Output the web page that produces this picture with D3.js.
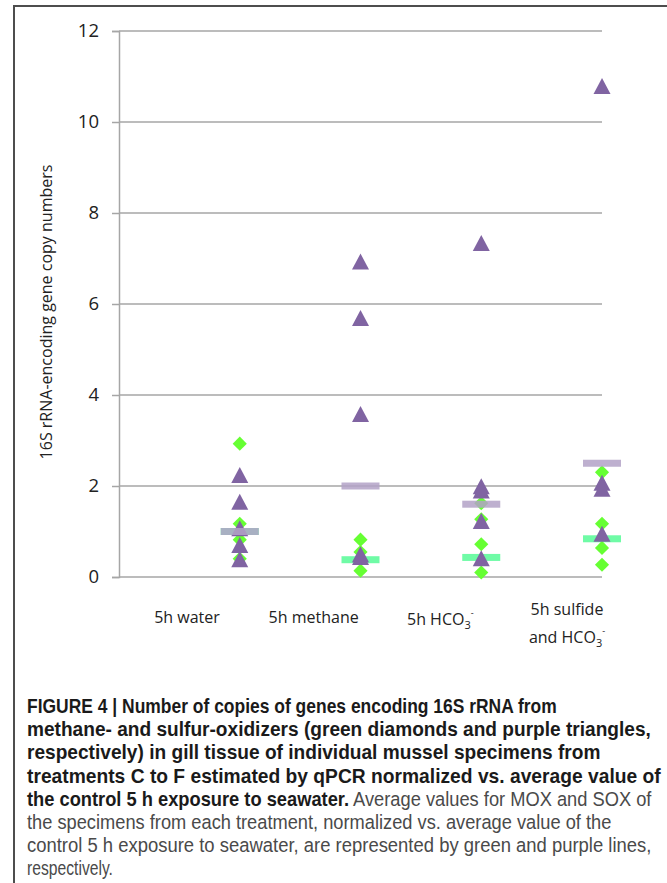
<!DOCTYPE html>
<html>
<head>
<meta charset="utf-8">
<script src="https://cdn.jsdelivr.net/npm/d3@7"></script>
<style>
  html, body { margin: 0; padding: 0; background: #fff; }
  svg { display: block; }
</style>
</head>
<body>
<svg id="chart" width="667" height="883"></svg>
<script>
// ---------- data ----------
const categories = ["5h water", "5h methane", "5h HCO3-", "5h sulfide and HCO3-"];
const yTicks = [0, 2, 4, 6, 8, 10, 12];
// sulfur-oxidizers (purple triangles)
const soxWater   = [2.22, 1.63, 1.05, 0.68, 0.37];
const soxMethane = [6.91, 5.67, 3.56, 0.48, 0.42];
const soxHCO3    = [7.32, 1.97, 1.88, 1.21, 0.39];
const soxSulfide = [10.77, 2.05, 1.92, 0.93];
// methane-oxidizers (green diamonds)
const moxWater   = [2.93, 1.17, 0.82, 0.40];
const moxMethane = [0.82, 0.55, 0.38, 0.14];
const moxHCO3    = [1.62, 1.27, 0.72, 0.10];
const moxSulfide = [2.30, 1.17, 0.64, 0.27];
// averages (lines)
const moxMean = [1.0, 0.38, 0.43, 0.84];
const soxMean = [1.0, 2.0, 1.6, 2.5];

const soxSeries = [soxWater, soxMethane, soxHCO3, soxSulfide];
const moxSeries = [moxWater, moxMethane, moxHCO3, moxSulfide];

// ---------- layout ----------
const svg = d3.select("#chart");
const x = d3.scaleLinear().domain([0, 4]).range([119, 602]);
const y = d3.scaleLinear().domain([0, 12]).range([577, 31]);
const labelX = d3.scalePoint().domain(categories).range([187, 567]);

const C = {
  purple: "#8064a2",
  lavender: "#b3a2c7",
  green: "#66ff33",
  mint: "#5ffb9c",
  grid: "#a6a6a6",
  text: "#222"
};

// figure frame
svg.append("path")
  .attr("d", "M14,883 V6 H667")
  .attr("fill", "none").attr("stroke", "#4d4d4d").attr("stroke-width", 2);

// gridlines
svg.append("g").selectAll("line").data(yTicks).join("line")
  .attr("x1", x(0)).attr("x2", x(4))
  .attr("y1", d => y(d)).attr("y2", d => y(d))
  .attr("stroke", C.grid).attr("stroke-width", 1.5);

// y axis
const yAxis = d3.axisLeft(y).tickValues(yTicks).tickSize(7).tickPadding(13);
const gy = svg.append("g").attr("transform", `translate(${x(0)},0)`).call(yAxis);
gy.select(".domain").attr("stroke", C.grid).attr("stroke-width", 1.5);
gy.selectAll(".tick line").attr("stroke", C.grid).attr("stroke-width", 1.5);
gy.selectAll(".tick text")
  .attr("font-family", "'Open Sans', sans-serif").attr("font-size", 18.5)
  .attr("fill", "#222");

// y title
svg.append("text")
  .attr("transform", `translate(52,312) rotate(-90)`)
  .attr("text-anchor", "middle")
  .attr("font-family", "'Open Sans', sans-serif").attr("font-size", 16)
  .attr("fill", "#222")
  .text("16S rRNA-encoding gene copy numbers");

// category labels
const catFont = "'Open Sans', sans-serif";
function hco3(t, prefix) {
  t.append("tspan").text(prefix + "HCO");
  t.append("tspan").attr("font-size", 11).attr("dy", 4).text("3");
  t.append("tspan").attr("font-size", 9).attr("dy", -13).text("-");
}
const labels = svg.append("g")
  .attr("font-family", catFont).attr("font-size", 16).attr("fill", "#222");
categories.forEach((c, i) => {
  const cx = labelX(c);
  if (i < 2) {
    labels.append("text").attr("x", cx).attr("y", 623).attr("text-anchor", "middle").text(c);
  } else if (i === 2) {
    const t = labels.append("text").attr("x", cx).attr("y", 625).attr("text-anchor", "middle");
    hco3(t, "5h ");
  } else {
    labels.append("text").attr("x", cx).attr("y", 615).attr("text-anchor", "middle").text("5h sulfide");
    const t = labels.append("text").attr("x", cx).attr("y", 643).attr("text-anchor", "middle");
    hco3(t, "and ");
  }
});

// mean lines (green, beneath)
const barW = 38, barH = 7;
svg.append("g").selectAll("rect").data(moxMean).join("rect")
  .attr("x", (d, i) => x(i + 1) - barW / 2).attr("y", d => y(d) - barH / 2)
  .attr("width", barW).attr("height", barH)
  .attr("fill", C.mint).attr("opacity", 0.9);

// diamonds
const diamond = d3.symbol().type(d3.symbolSquare).size(100);
const moxPts = moxSeries.flatMap((arr, i) => arr.map(v => ({ i, v })));
svg.append("g").selectAll("path").data(moxPts).join("path")
  .attr("d", diamond)
  .attr("transform", d => `translate(${x(d.i + 1)},${y(d.v)}) rotate(45)`)
  .attr("fill", C.green);

// triangles
const soxPts = soxSeries.flatMap((arr, i) => arr.map(v => ({ i, v })));
svg.append("g").selectAll("path").data(soxPts).join("path")
  .attr("d", "M0,-9 L8.5,7 L-8.5,7 Z")
  .attr("transform", d => `translate(${x(d.i + 1)},${y(d.v)})`)
  .attr("fill", C.purple);

// purple mean lines (on top, translucent)
svg.append("g").selectAll("rect").data(soxMean).join("rect")
  .attr("x", (d, i) => x(i + 1) - barW / 2).attr("y", d => y(d) - barH / 2)
  .attr("width", barW).attr("height", barH)
  .attr("fill", C.lavender).attr("opacity", 0.85);

// caption (condensed look: each line squeezed to the width of the original)
const captionLines = [
  [["FIGURE 4 | Number of copies of genes encoding 16S rRNA from", true]],
  [["methane- and sulfur-oxidizers (green diamonds and purple triangles,", true]],
  [["respectively) in gill tissue of individual mussel specimens from", true]],
  [["treatments C to F estimated by qPCR normalized vs. average value of", true]],
  [["the control 5 h exposure to seawater.", true], [" Average values for MOX and SOX of", false]],
  [["the specimens from each treatment, normalized vs. average value of the", false]],
  [["control 5 h exposure to seawater, are represented by green and purple lines,", false]],
  [["respectively.", false]]
];
const captionRight = [557, 651, 601, 661, 652, 612, 652, 113];
const cap = svg.append("g")
  .attr("font-family", "'Liberation Sans', Arial, sans-serif")
  .attr("font-size", 19.5);
captionLines.forEach((segs, k) => {
  const yy = 713 + k * 23.2;
  const t = cap.append("text").attr("x", 0).attr("y", 0);
  segs.forEach(([s, b]) => {
    t.append("tspan")
      .attr("font-weight", b ? "bold" : "normal")
      .attr("fill", b ? "#1a1a1a" : "#4a4a4a")
      .text(s);
  });
  const natural = t.node().getComputedTextLength();
  const sx = (captionRight[k] - 27) / natural;
  t.attr("transform", `translate(27,${yy}) scale(${sx},1)`);
});
</script>
</body>
</html>
